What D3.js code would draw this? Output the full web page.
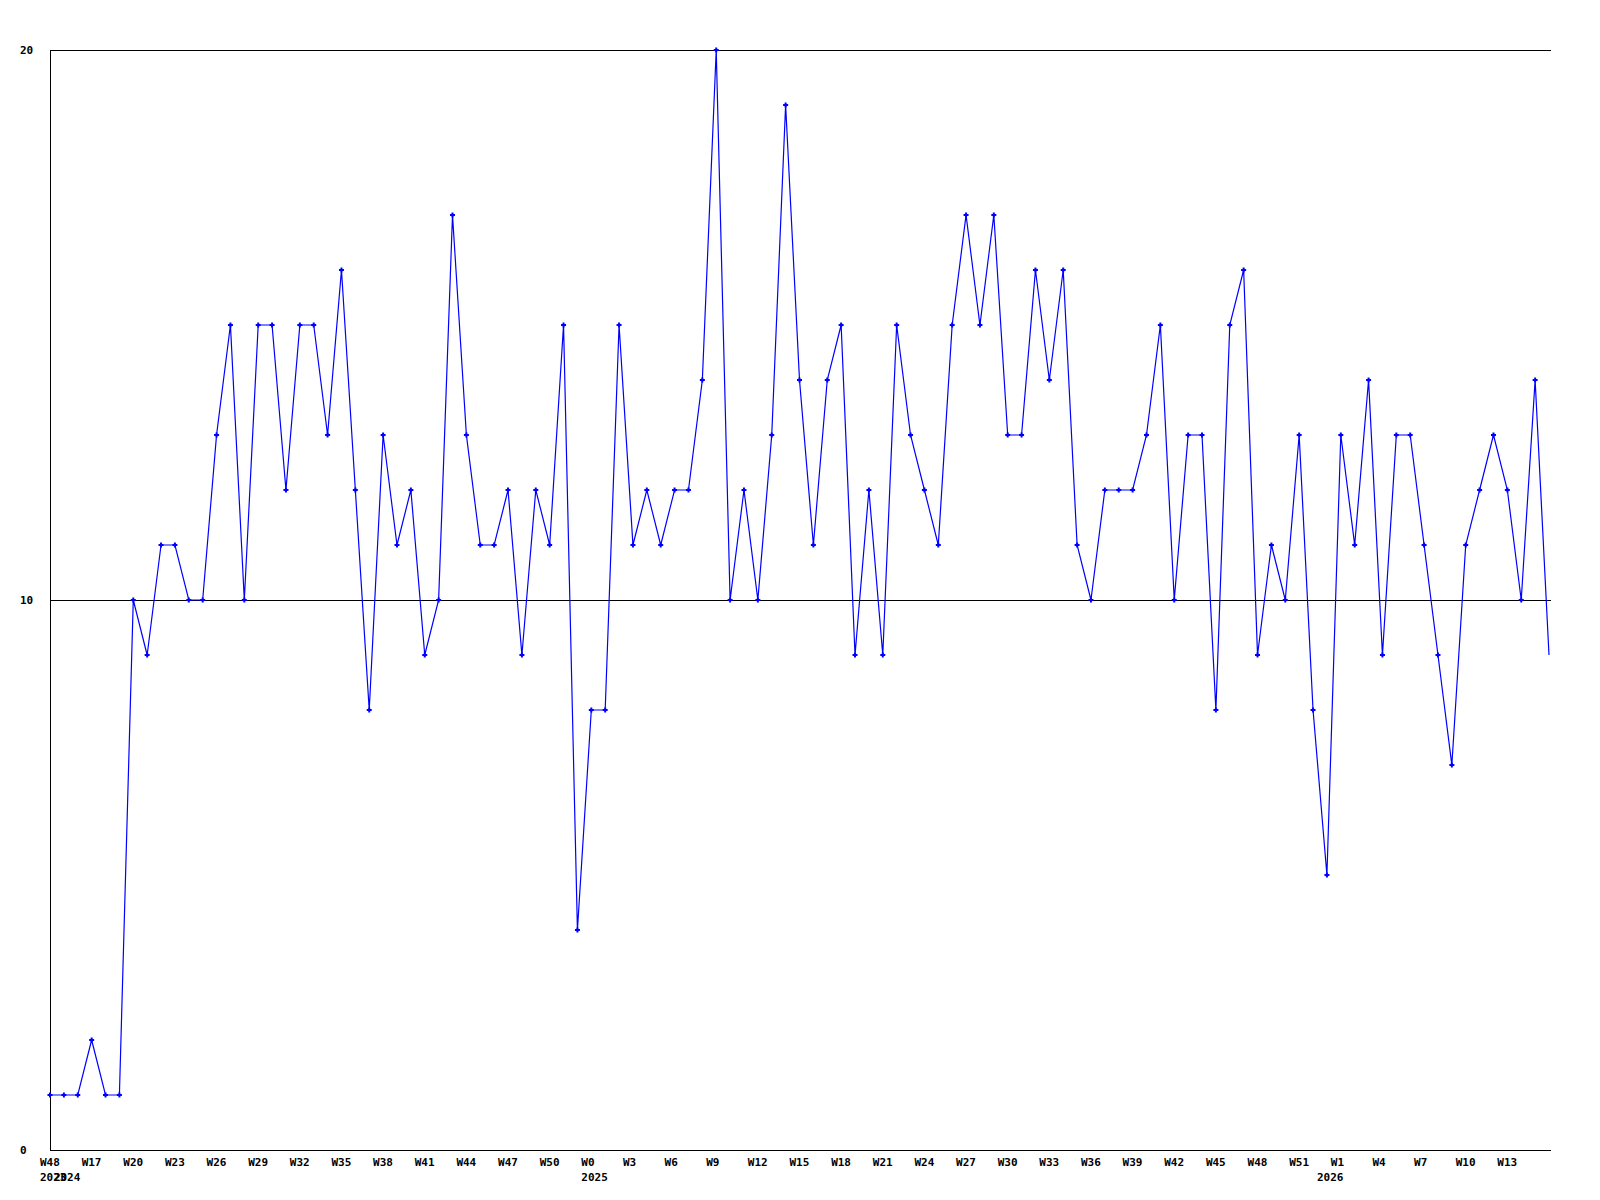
<!DOCTYPE html>
<html>
<head>
<meta charset="utf-8">
<script src="https://cdn.jsdelivr.net/npm/d3@7"></script>
<style>
    body { margin: 0; background: #fff; }
    text { font-family: "DejaVu Sans Mono", monospace; font-size: 11px; font-weight: bold; fill: #000; }
</style>
</head>
<body>
<div id="main"></div>
<script>
// weekly counts, first point is 2023 W48, then 2024 W15 onwards
const values = [
    1, 1, 1, 2, 1, 1, 10, 9, 11, 11, 10, 10, 13, 15, 10, 15, 15, 12, 15, 15,
    13, 16, 12, 8, 13, 11, 12, 9, 10, 17, 13, 11, 11, 12, 9, 12, 11, 15, 4, 8,
    8, 15, 11, 12, 11, 12, 12, 14, 20, 10, 12, 10, 13, 19, 14, 11, 14, 15, 9, 12,
    9, 15, 13, 12, 11, 15, 17, 15, 17, 13, 13, 16, 14, 16, 11, 10, 12, 12, 12, 13,
    15, 10, 13, 13, 8, 15, 16, 9, 11, 10, 13, 8, 5, 13, 11, 14, 9, 13, 13, 11,
    9, 7, 11, 12, 13, 12, 10, 14, 9
];
// week labels shown every 3rd point
const weekLabels = [
    "W48", "W17", "W20", "W23", "W26", "W29", "W32", "W35", "W38", "W41", "W44", "W47",
    "W50", "W0", "W3", "W6", "W9", "W12", "W15", "W18", "W21", "W24", "W27", "W30",
    "W33", "W36", "W39", "W42", "W45", "W48", "W51", "W1", "W4", "W7", "W10", "W13"
];
const yearLabels = ["2023", "2024", "2025", "2026"];
const yearIndex = [0, 1, 39, 92];
const yTicks = [0, 10, 20];

const width = 1600, height = 1200;
const margin = {left: 50, top: 50, right: 49, bottom: 50};

let svg = d3.select("#main").append("svg")
    .attr("width", width)
    .attr("height", height);

let scaleX = d3.scaleLinear().domain([0, values.length - 1]).range([margin.left, 1549]);
let scaleY = d3.scaleLinear().domain([0, 20]).range([height - margin.bottom, margin.top]);

// horizontal lines
svg.selectAll(".grid")
    .data(yTicks)
    .enter().append("line")
    .attr("class", "grid")
    .attr("x1", margin.left)
    .attr("x2", width - margin.right)
    .attr("y1", d => Math.round(scaleY(d)) + 0.5)
    .attr("y2", d => Math.round(scaleY(d)) + 0.5)
    .attr("stroke", "#000")
    .attr("shape-rendering", "crispEdges");

svg.append("line")
    .attr("x1", margin.left + 0.5).attr("x2", margin.left + 0.5)
    .attr("y1", margin.top).attr("y2", height - margin.bottom)
    .attr("stroke", "#000")
    .attr("shape-rendering", "crispEdges");

svg.selectAll(".ylab")
    .data(yTicks)
    .enter().append("text")
    .attr("class", "ylab")
    .attr("x", 20)
    .attr("y", d => scaleY(d) + 4)
    .text(d => d);

svg.selectAll(".xlab")
    .data(weekLabels)
    .enter().append("text")
    .attr("class", "xlab")
    .attr("x", (d, i) => scaleX(i * 3) - 10)
    .attr("y", 1166)
    .text(d => d);

svg.selectAll(".year")
    .data(yearLabels)
    .enter().append("text")
    .attr("class", "year")
    .attr("x", (d, i) => scaleX(yearIndex[i]) - 10)
    .attr("y", 1181)
    .text(d => d);

svg.append("path")
    .datum(values)
    .attr("fill", "none")
    .attr("stroke", "#0000ff")
    .attr("stroke-width", 1.2)
    .attr("d", d3.line()
        .x((d, i) => scaleX(i))
        .y(d => scaleY(d))
    );

// small plus markers, the last point sits on the edge without one
svg.selectAll(".mark")
    .data(values.slice(0, -1))
    .enter().append("path")
    .attr("class", "mark")
    .attr("d", (d, i) => {
        let x = scaleX(i), y = scaleY(d);
        return "M" + (x - 2.5) + "," + y + "H" + (x + 2.5) + "M" + x + "," + (y - 2.5) + "V" + (y + 2.5);
    })
    .attr("stroke", "#0000ff")
    .attr("stroke-width", 2);
</script>
</body>
</html>
